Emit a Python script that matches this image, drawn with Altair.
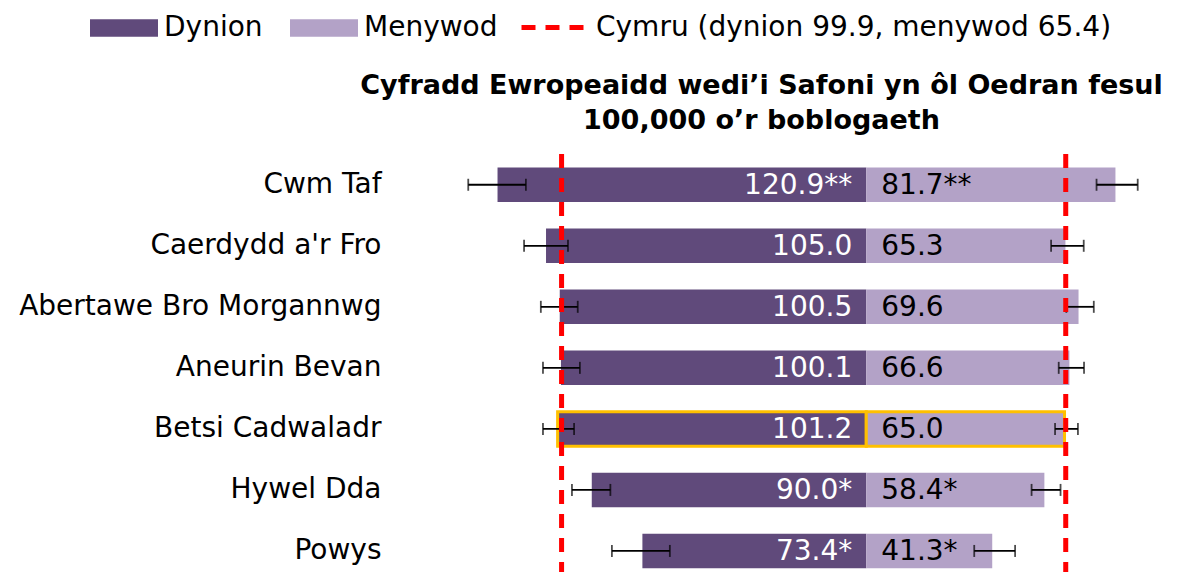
import altair as alt
import pandas as pd

regions = ["Cwm Taf", "Caerdydd a'r Fro", "Abertawe Bro Morgannwg", "Aneurin Bevan",
           "Betsi Cadwaladr", "Hywel Dda", "Powys"]
dynion = [120.9, 105.0, 100.5, 100.1, 101.2, 90.0, 73.4]
menywod = [81.7, 65.3, 69.6, 66.6, 65.0, 58.4, 41.3]
dyn_sig = ["**", "", "", "", "", "*", "*"]
men_sig = ["**", "", "", "", "", "*", "*"]
dyn_lo = [111.6, 97.8, 94.6, 93.9, 95.8, 83.9, 64.4]
dyn_hi = [130.5, 112.2, 106.7, 106.0, 106.0, 96.5, 83.4]
men_lo = [75.5, 60.6, 65.6, 63.1, 61.9, 54.2, 35.4]
men_hi = [89.0, 71.3, 74.6, 71.4, 69.4, 63.7, 48.8]
cymru_dyn = 99.9
cymru_men = 65.4
cymru_label = "Cymru (dynion 99.9, menywod 65.4)"
highlight = "Betsi Cadwaladr"
title_lines = ["Cyfradd Ewropeaidd wedi\u2019i Safoni yn ôl Oedran fesul",
               "100,000 o\u2019r boblogaeth"]

rows = []
for i, r in enumerate(regions):
    rows.append(dict(region=r, sex="Dynion", v=-dynion[i], lo=-dyn_lo[i], hi=-dyn_hi[i],
                     label=f"{dynion[i]:.1f}{dyn_sig[i]}"))
    rows.append(dict(region=r, sex="Menywod", v=menywod[i], lo=men_lo[i], hi=men_hi[i],
                     label=f"{menywod[i]:.1f}{men_sig[i]}"))
df = pd.DataFrame(rows)
ref = pd.DataFrame({"x": [-cymru_dyn, cymru_men], "cym": [cymru_label, cymru_label]})

FONT = "DejaVu Sans"
xscale = alt.Scale(domain=[-155.5, 86.8], nice=False, zero=False)
yenc = alt.Y("region:N", sort=regions,
             scale=alt.Scale(paddingInner=0.435, paddingOuter=0.142, align=0.78),
             axis=alt.Axis(title=None, ticks=False, domain=False, grid=False,
                           labelFontSize=28, labelFont=FONT, labelColor="black",
                           labelPadding=11, labelLimit=1000))

base = alt.Chart(df)

bars = base.mark_bar(stroke="#FFC000").encode(
    x=alt.X("v:Q", scale=xscale, axis=None),
    y=yenc,
    color=alt.Color("sex:N",
                    scale=alt.Scale(domain=["Dynion", "Menywod"], range=["#604A7B", "#B3A2C7"]),
                    legend=alt.Legend(orient="none", legendX=-302, legendY=-160,
                                      direction="horizontal", title=None,
                                      symbolType="M-1,-0.256L1,-0.256L1,0.256L-1,0.256Z",
                                      symbolSize=4624, symbolStrokeWidth=0,
                                      labelFontSize=28, labelFont=FONT, labelColor="black",
                                      labelOffset=6, columnPadding=27, labelLimit=1000)),
    strokeWidth=alt.condition(alt.datum.region == highlight, alt.value(3), alt.value(0)),
)

err_line = base.mark_rule(color="black", strokeWidth=1.8).encode(
    x=alt.X("lo:Q", scale=xscale), x2="hi:Q", y=alt.Y("region:N", sort=regions))
err_lo = base.mark_tick(color="black", thickness=1.8, size=12, orient="vertical").encode(
    x=alt.X("lo:Q", scale=xscale), y=alt.Y("region:N", sort=regions))
err_hi = base.mark_tick(color="black", thickness=1.8, size=12, orient="vertical").encode(
    x=alt.X("hi:Q", scale=xscale), y=alt.Y("region:N", sort=regions))

txt_dyn = base.transform_filter(alt.datum.sex == "Dynion").mark_text(
    align="right", baseline="middle", dx=-14, dy=1, fontSize=28, font=FONT, color="white"
).encode(x=alt.datum(0, scale=xscale), y=alt.Y("region:N", sort=regions), text="label:N")
txt_men = base.transform_filter(alt.datum.sex == "Menywod").mark_text(
    align="left", baseline="middle", dx=15, dy=1, fontSize=28, font=FONT, color="black"
).encode(x=alt.datum(0, scale=xscale), y=alt.Y("region:N", sort=regions), text="label:N")

rules = alt.Chart(ref).mark_rule(color="#FF0000", strokeWidth=5).encode(
    x=alt.X("x:Q", scale=xscale),
    strokeDash=alt.StrokeDash("cym:N", scale=alt.Scale(domain=[cymru_label], range=[[14, 10]]),
                              legend=alt.Legend(orient="none", legendX=127, legendY=-160,
                                                title=None, symbolType="stroke",
                                                symbolStrokeColor="#FF0000",
                                                symbolStrokeWidth=5, symbolSize=3844,
                                                labelFontSize=28, labelFont=FONT,
                                                labelColor="black", labelOffset=10,
                                                labelLimit=1000)),
)

chart = alt.layer(bars, err_line, err_lo, err_hi, txt_dyn, txt_men, rules).properties(
    width=739, height=418,
    title=alt.TitleParams(text=title_lines, fontSize=27, font=FONT, fontWeight="bold",
                          color="black", anchor="middle", offset=19, lineHeight=35.5, dy=160),
    autosize=alt.AutoSizeParams(type="none"),
    padding={"left": 384, "top": 146, "right": 40, "bottom": 0},
).configure(background="white").configure_view(stroke=None)

chart.save("out.html", embed_options={"renderer": "svg", "actions": False})
